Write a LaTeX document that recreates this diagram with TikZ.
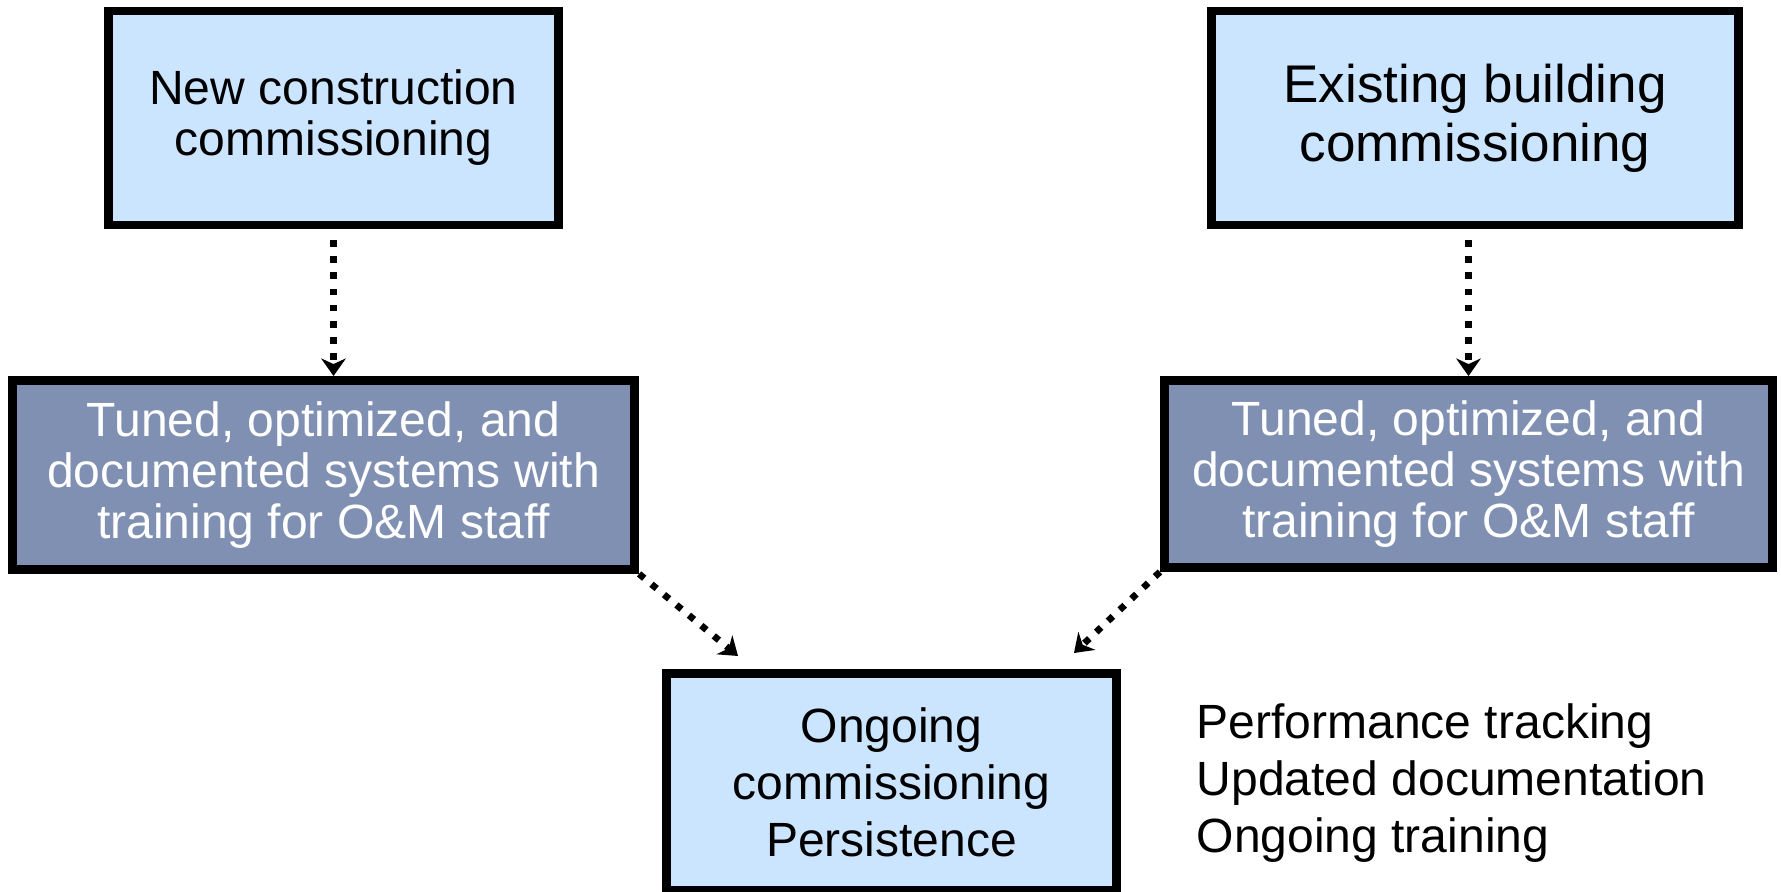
\documentclass[tikz,border=0pt]{standalone}
\usepackage{fontspec}
\setmainfont{Liberation Sans}
\usetikzlibrary{arrows.meta,positioning}
\definecolor{lightblue}{RGB}{204,229,255}
\definecolor{slateblue}{RGB}{128,144,178}

\begin{document}
\begin{tikzpicture}[x=0.01cm,y=-0.01cm,
  box/.style={rectangle,draw,line width=2.5pt,align=center,inner sep=0pt,
              font=\fontsize{13.66}{14.5}\selectfont},
  lbox/.style={box,fill=lightblue},
  dbox/.style={box,fill=slateblue,text=white},
  flow/.style={-{Stealth[length=5pt,width=7pt,inset=1.6pt]},line width=1.9pt,
               dash pattern=on 1.9pt off 2.7pt}]
\useasboundingbox (0,0) rectangle (1781,892);
\node[lbox,minimum width=4.50cm,minimum height=2.14cm] (newc)  at (333.5,118) {New construction\\commissioning};
\node[lbox,minimum width=5.27cm,minimum height=2.14cm,font=\fontsize{15.08}{16.8}\selectfont] (exist) at (1475,118) {Existing building\\commissioning};
\node[dbox,minimum width=6.22cm,minimum height=1.89cm] (tunedL) at (323.5,475) {Tuned, optimized, and\\documented systems with\\training for O\&M staff};
\node[dbox,minimum width=6.08cm,minimum height=1.87cm] (tunedR) at (1468.5,474) {Tuned, optimized, and\\documented systems with\\training for O\&M staff};
\node[lbox,minimum width=4.50cm,minimum height=2.17cm,font=\fontsize{13.66}{16.2}\selectfont] (ongo) at (891.5,782) {Ongoing\\commissioning\\Persistence};
\node[align=left,anchor=west,inner sep=0pt,font=\fontsize{13.66}{16.2}\selectfont] (list) at (1196,783) {Performance tracking\\Updated documentation\\Ongoing training};
\coordinate (tipL) at (738,656);
\coordinate (tipR) at (1074,653);
\draw[flow] ([yshift=-3pt]newc.south) -- (newc.south |- tunedL.north);
\draw[flow] ([yshift=-3pt]tunedR.north |- exist.south) -- (tunedR.north);
\draw[flow] (tunedL.south east) -- (tipL);
\draw[flow] (tunedR.south west) -- (tipR);
\end{tikzpicture}
\end{document}
